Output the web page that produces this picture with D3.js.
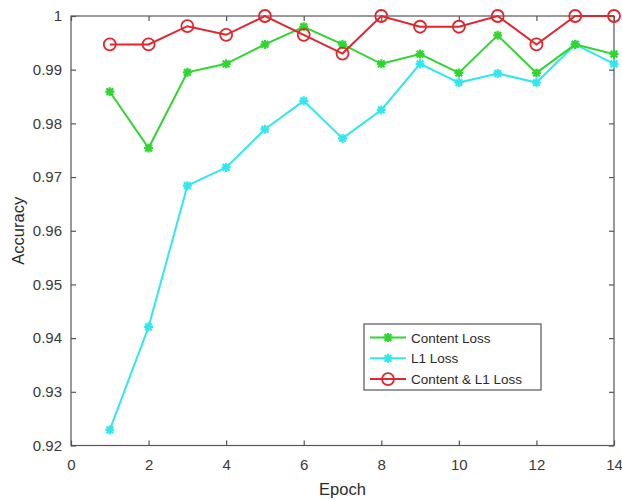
<!DOCTYPE html>
<html><head><meta charset="utf-8">
<script src="https://cdn.jsdelivr.net/npm/d3@7"></script>
<style>body{margin:0;background:#fff}svg{display:block}</style>
</head><body>
<svg id="c" width="622" height="500"></svg>
<script>
const epochs = [1,2,3,4,5,6,7,8,9,10,11,12,13,14];
const contentLoss = [0.9859,0.9754,0.9895,0.9911,0.9947,0.9980,0.9947,0.9911,0.9929,0.9894,0.9964,0.9894,0.9947,0.9929];
const l1Loss = [0.9229,0.9421,0.9684,0.9718,0.9789,0.9842,0.9772,0.9825,0.9911,0.9876,0.9893,0.9876,0.9947,0.9911];
const bothLoss = [0.9947,0.9947,0.9981,0.9965,1.0,0.9965,0.9930,1.0,0.9980,0.9980,1.0,0.9947,1.0,1.0];
const xTicks = [0,2,4,6,8,10,12,14];
const yTicks = [0.92,0.93,0.94,0.95,0.96,0.97,0.98,0.99,1];
const seriesNames = ["Content Loss","L1 Loss","Content & L1 Loss"];
const seriesColors = ["#2fd62f","#30e8ee","#e0262c"];
const seriesMarkers = ["star","star","circle"];

const svg = d3.select("#c");
const L=71, R=614, T=16, B=445.5;
const x = d3.scaleLinear().domain([0,14]).range([L,R]);
const y = d3.scaleLinear().domain([0.92,1]).range([B,T]);
const axisColor="#555", textColor="#3a3a3a", font="Liberation Sans, Arial, sans-serif";

svg.append("rect").attr("x",L).attr("y",T).attr("width",R-L).attr("height",B-T)
  .attr("fill","none").attr("stroke",axisColor).attr("stroke-width",1.2);

const fmtY = d => d===1 ? "1" : d3.format(".2f")(d);
const gx = svg.append("g").attr("transform",`translate(0,${B})`)
  .call(d3.axisBottom(x).tickValues(xTicks).tickSize(-5).tickPadding(14).tickFormat(d3.format("d")));
const gy = svg.append("g").attr("transform",`translate(${L},0)`)
  .call(d3.axisLeft(y).tickValues(yTicks).tickSize(-5).tickPadding(9).tickFormat(fmtY));
const gxt = svg.append("g").attr("transform",`translate(0,${T})`)
  .call(d3.axisTop(x).tickValues(xTicks).tickSize(-5).tickFormat(""));
const gyr = svg.append("g").attr("transform",`translate(${R},0)`)
  .call(d3.axisRight(y).tickValues(yTicks).tickSize(-5).tickFormat(""));
[gx,gy,gxt,gyr].forEach(g=>{
  g.select(".domain").remove();
  g.selectAll("line").attr("stroke",axisColor).attr("stroke-width",1.2);
  g.selectAll("text").attr("fill",textColor).style("font-family",font).style("font-size","15px");
});

svg.append("text").attr("x",(L+R)/2).attr("y",495).attr("text-anchor","middle")
  .attr("fill","#2a2a2a").style("font-family",font).style("font-size","16.5px").text("Epoch");
svg.append("text").attr("transform",`translate(24,${(T+B)/2}) rotate(-90)`).attr("text-anchor","middle")
  .attr("fill","#2a2a2a").style("font-family",font).style("font-size","16.5px").text("Accuracy");

function marker(g, type, cx, cy, color){
  if(type==="circle"){
    g.append("circle").attr("cx",cx).attr("cy",cy).attr("r",6).attr("fill","none")
      .attr("stroke",color).attr("stroke-width",1.8);
  } else {
    const s=4.5;
    const p=`M${cx-s},${cy}L${cx+s},${cy}M${cx},${cy-s}L${cx},${cy+s}M${cx-s*0.75},${cy-s*0.75}L${cx+s*0.75},${cy+s*0.75}M${cx-s*0.75},${cy+s*0.75}L${cx+s*0.75},${cy-s*0.75}`;
    g.append("path").attr("d",p).attr("stroke",color).attr("stroke-width",2.2).attr("fill","none");
    g.append("circle").attr("cx",cx).attr("cy",cy).attr("r",2.5).attr("fill",color);
  }
}

const allSeries=[contentLoss,l1Loss,bothLoss];
const line = d3.line().x((d,i)=>x(epochs[i])).y(d=>y(d));
[1,0,2].forEach(k=>{
  const g=svg.append("g");
  g.append("path").datum(allSeries[k]).attr("d",line).attr("fill","none")
    .attr("stroke",seriesColors[k]).attr("stroke-width",2);
  allSeries[k].forEach((v,i)=>marker(g,seriesMarkers[k],x(epochs[i]),y(v),seriesColors[k]));
});

const lg = svg.append("g");
lg.append("rect").attr("x",364).attr("y",324).attr("width",177).attr("height",66)
  .attr("fill","#fff").attr("stroke",axisColor).attr("stroke-width",1.2);
seriesNames.forEach((n,k)=>{
  const yy = 337.5 + k*20.8;
  lg.append("line").attr("x1",370).attr("x2",406).attr("y1",yy).attr("y2",yy)
    .attr("stroke",seriesColors[k]).attr("stroke-width",2);
  marker(lg,seriesMarkers[k],388,yy,seriesColors[k]);
  lg.append("text").attr("x",411).attr("y",yy+5).attr("fill","#2a2a2a")
    .style("font-family",font).style("font-size","13.5px").text(n);
});
</script>
</body></html>
